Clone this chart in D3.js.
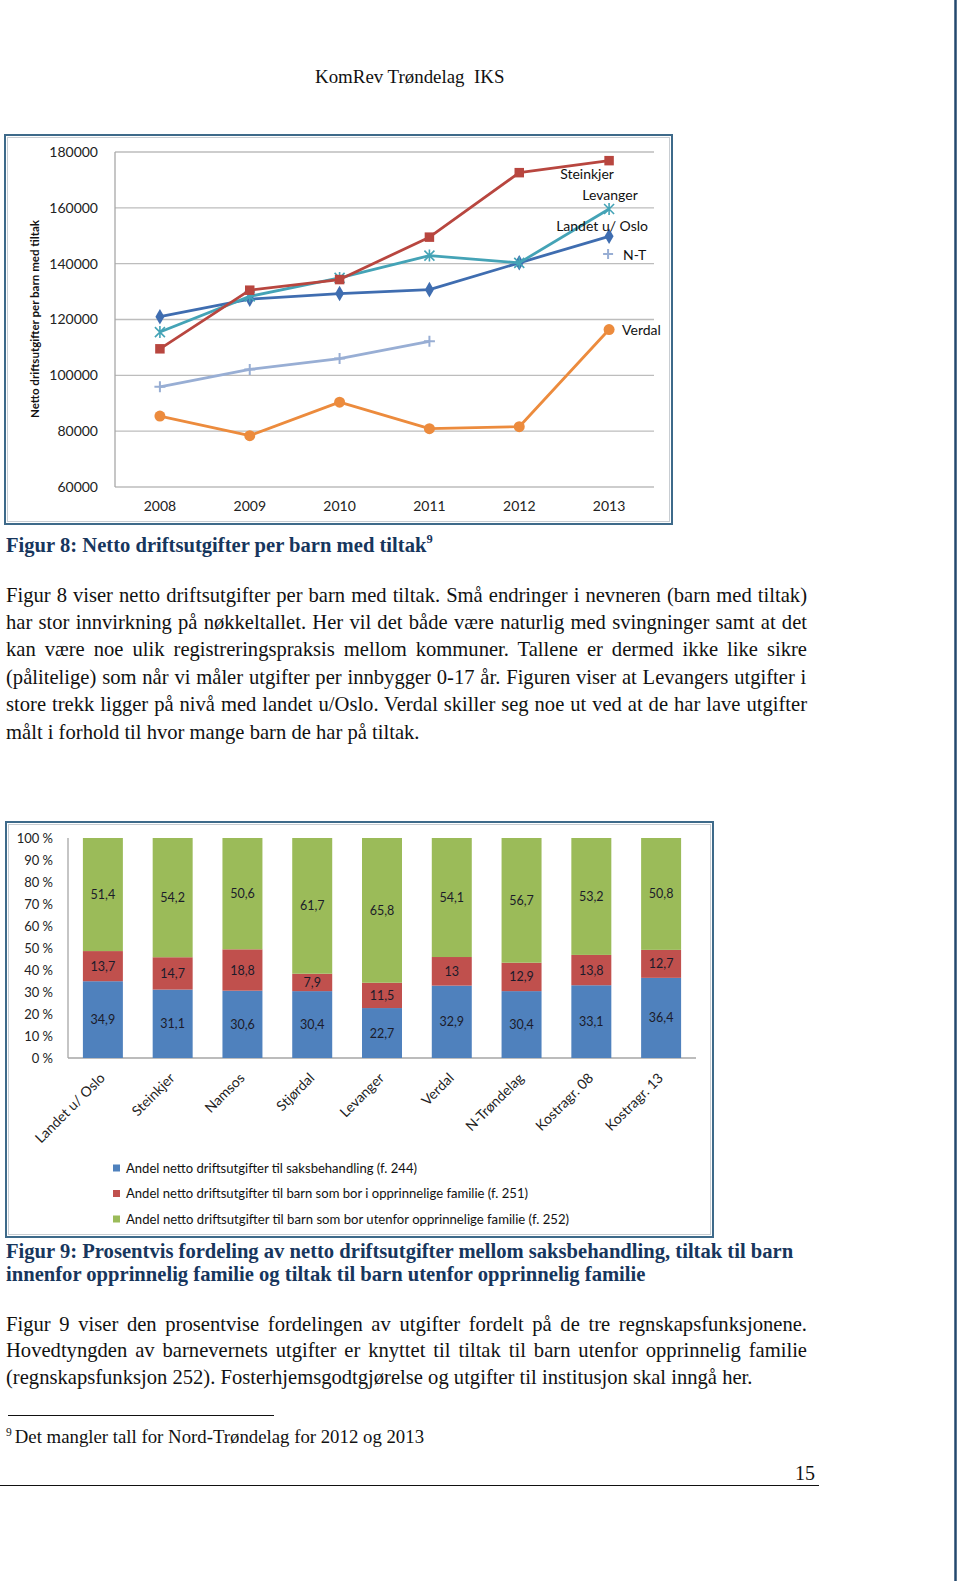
<!DOCTYPE html>
<html><head><meta charset="utf-8">
<script src="https://cdn.jsdelivr.net/npm/d3@7"></script>
<style>body{margin:0;background:#fff} svg{display:block}</style>
</head><body>
<svg id="page" width="960" height="1581"></svg>
<script>
// ---------- Figure 8 data ----------
const years = ["2008","2009","2010","2011","2012","2013"];
const landetUOslo = [121000,127300,129300,130700,140300,149800];
const steinkjer   = [109500,130500,134300,149500,172600,176900];
const levanger    = [115500,128300,134900,142900,140300,159600];
const nordTrondelag = [95900,102100,106000,112200,null,null];
const verdal      = [85400,78400,90400,80900,81600,116400];
const lineTicks = [60000,80000,100000,120000,140000,160000,180000];
const lineSeriesNames = ["Landet u/ Oslo","Steinkjer","Levanger","N-T","Verdal"];

// ---------- Figure 9 data ----------
const categories = ["Landet u/ Oslo","Steinkjer","Namsos","Stjørdal","Levanger","Verdal","N-Trøndelag","Kostragr. 08","Kostragr. 13"];
const saksbehandling = [34.9,31.1,30.6,30.4,22.7,32.9,30.4,33.1,36.4];
const iFamilie       = [13.7,14.7,18.8,7.9,11.5,13,12.9,13.8,12.7];
const utenforFamilie = [51.4,54.2,50.6,61.7,65.8,54.1,56.7,53.2,50.8];
const pctTicks = [0,0.1,0.2,0.3,0.4,0.5,0.6,0.7,0.8,0.9,1];
const legendLabels = [
  "Andel netto driftsutgifter til saksbehandling (f. 244)",
  "Andel netto driftsutgifter til barn som bor i opprinnelige familie (f. 251)",
  "Andel netto driftsutgifter til barn som bor utenfor opprinnelige familie (f. 252)"
];

const svg = d3.select("#page");
const nb = d3.formatLocale({decimal:",", thousands:" ", grouping:[3], currency:["","kr"], percent:" %"});
const serif = "'Liberation Serif','Times New Roman',serif";
const sans = "Lato,'Open Sans',sans-serif";
const navy = "#17365D";
const bodySize = 20.6;

// ---------- page furniture ----------
svg.append("line").attr("x1",955.5).attr("x2",955.5).attr("y1",0).attr("y2",1581)
   .attr("stroke","#24496E").attr("stroke-width",2.5);
svg.append("text").attr("x",315).attr("y",83).attr("font-family",serif).attr("font-size",18.9)
   .attr("fill","#111").attr("xml:space","preserve").style("white-space","pre").text("KomRev Trøndelag  IKS");

function frame(x0,y0,x1,y1){
  svg.append("rect").attr("x",x0).attr("y",y0).attr("width",x1-x0).attr("height",y1-y0)
     .attr("fill","#fff").attr("stroke","#3E6A8A").attr("stroke-width",2);
  svg.append("rect").attr("x",x0+2.5).attr("y",y0+2.5).attr("width",x1-x0-5).attr("height",y1-y0-5)
     .attr("fill","none").attr("stroke","#C8CDD2").attr("stroke-width",1);
}

// ---------- Figure 8: line chart ----------
frame(5,135,672,524);
const gL = svg.append("g");
const xL = d3.scaleBand().domain(years).range([115,654]);
const yL = d3.scaleLinear().domain([60000,180000]).range([487,152]);

gL.append("g").selectAll("line").data(lineTicks).join("line")
  .attr("x1",115).attr("x2",654).attr("y1",d=>yL(d)).attr("y2",d=>yL(d))
  .attr("stroke","#BDBDBD").attr("stroke-width",1.3);
gL.append("line").attr("x1",115).attr("x2",115).attr("y1",yL(180000)).attr("y2",yL(60000))
  .attr("stroke","#A8A8A8").attr("stroke-width",1.3);

const yAxisL = d3.axisLeft(yL).tickValues(lineTicks).tickFormat(d3.format("d")).tickSize(0).tickPadding(17);
gL.append("g").attr("transform","translate(115,0)").call(yAxisL)
  .call(g=>g.select(".domain").remove())
  .selectAll("text").attr("font-family",sans).attr("font-size",14).attr("fill","#222");
const xAxisL = d3.axisBottom(xL).tickSize(0).tickPadding(14);
gL.append("g").attr("transform","translate(0,487)").call(xAxisL)
  .call(g=>g.select(".domain").remove())
  .selectAll("text").attr("font-family",sans).attr("font-size",14).attr("fill","#222");

gL.append("text").attr("transform","translate(39,319) rotate(-90)").attr("text-anchor","middle")
  .attr("font-family",sans).attr("font-weight","bold").attr("font-size",11.5).attr("fill","#111")
  .attr("textLength",198).attr("lengthAdjust","spacingAndGlyphs")
  .text("Netto driftsutgifter per barn med tiltak");

const cx = d=>xL(d)+xL.bandwidth()/2;
const lineGen = d3.line().defined(d=>d[1]!=null).x(d=>cx(d[0])).y(d=>yL(d[1]));
const series = [
  {name:"N-T", vals:nordTrondelag, color:"#98AED4", marker:"plus"},
  {name:"Verdal", vals:verdal, color:"#EC8B3D", marker:"circle"},
  {name:"Landet u/ Oslo", vals:landetUOslo, color:"#3F6DB0", marker:"diamond"},
  {name:"Levanger", vals:levanger, color:"#44A3B6", marker:"star"},
  {name:"Steinkjer", vals:steinkjer, color:"#B8463F", marker:"square"}
];
series.forEach(s=>{
  const pts = years.map((y,i)=>[y,s.vals[i]]);
  gL.append("path").datum(pts).attr("d",lineGen).attr("fill","none")
    .attr("stroke",s.color).attr("stroke-width",2.8).attr("stroke-linejoin","round");
  const mk = gL.append("g").selectAll("path").data(pts.filter(p=>p[1]!=null)).join("path")
    .attr("transform",p=>`translate(${cx(p[0])},${yL(p[1])})`);
  if(s.marker==="diamond") mk.attr("d",d3.symbol(d3.symbolDiamond,70)).attr("fill",s.color);
  if(s.marker==="square") mk.attr("d",d3.symbol(d3.symbolSquare,90)).attr("fill",s.color);
  if(s.marker==="circle") mk.attr("d",d3.symbol(d3.symbolCircle,95)).attr("fill",s.color);
  if(s.marker==="plus") mk.attr("d","M-5.5,0H5.5M0,-5.5V5.5").attr("stroke",s.color).attr("stroke-width",2).attr("fill","none");
  if(s.marker==="star") mk.attr("d","M-5,-5L5,5M-5,5L5,-5M0,-6V6").attr("stroke",s.color).attr("stroke-width",1.6).attr("fill","none");
});
// data labels at 2013
const last = years.length-1, x13 = cx(years[last]);
const lab = (t,x,y,anchor)=>gL.append("text").attr("x",x).attr("y",y).attr("text-anchor",anchor)
   .attr("dominant-baseline","central").attr("font-family",sans).attr("font-size",14).attr("fill","#111").text(t);
lab(lineSeriesNames[1], x13-22, yL(steinkjer[last])+12.5, "middle");
lab(lineSeriesNames[2], x13+1, yL(levanger[last])-14, "middle");
lab(lineSeriesNames[0], x13-7, yL(landetUOslo[last])-11, "middle");
lab(lineSeriesNames[4], x13+13, yL(verdal[last]), "start");
gL.append("path").attr("transform",`translate(${x13-1},254)`).attr("d","M-5,0H5M0,-5V5")
  .attr("stroke","#98AED4").attr("stroke-width",2);
lab(lineSeriesNames[3], x13+14, 254, "start");

// caption 8
const cap8 = svg.append("text").attr("x",6).attr("y",552).attr("font-family",serif).attr("font-weight","bold")
  .attr("font-size",bodySize).attr("fill",navy);
cap8.append("tspan").text("Figur 8: Netto driftsutgifter per barn med tiltak");
cap8.append("tspan").attr("font-size",12.5).attr("dy",-9).text("9");

// body text helper (justified)
function para(lines, x, y0, lh, right, justifyLast, opts={}){
  lines.forEach((t,i)=>{
    const el = svg.append("text").attr("x",x).attr("y",y0+i*lh).attr("font-family",serif)
      .attr("font-size",opts.size||bodySize).attr("fill",opts.fill||"#111")
      .attr("font-weight",opts.weight||"normal").text(t);
    const justify = opts.justify!==false && (i<lines.length-1 || justifyLast);
    if(justify){
      const w = el.node().getComputedTextLength();
      const n = (t.match(/ /g)||[]).length;
      if(n>0) el.attr("word-spacing",((right-x)-w)/n);
    }
  });
}
para([
 "Figur 8 viser netto driftsutgifter per barn med tiltak. Små endringer i nevneren (barn med tiltak)",
 "har stor innvirkning på nøkkeltallet. Her vil det både være naturlig med svingninger samt at det",
 "kan være noe ulik registreringspraksis mellom kommuner. Tallene er dermed ikke like sikre",
 "(pålitelige) som når vi måler utgifter per innbygger 0-17 år.  Figuren viser at Levangers utgifter i",
 "store trekk ligger på nivå med landet u/Oslo. Verdal skiller seg noe ut ved at de har lave utgifter",
 "målt i forhold til hvor mange barn de har på tiltak."
], 6, 601.5, 27.4, 807, false);

// ---------- Figure 9: stacked percent bars ----------
frame(6,822,713,1237);
const gB = svg.append("g");
const xB = d3.scaleBand().domain(categories).range([68,696]).paddingInner(0.427).paddingOuter(0.2135);
const yB = d3.scaleLinear().domain([0,1]).range([1058,838]);
const keys = ["saks","i","utenfor"];
const colors = {saks:"#4F81BD", i:"#C0504D", utenfor:"#9BBB59"};
const rows = categories.map((c,i)=>({cat:c, saks:saksbehandling[i], i:iFamilie[i], utenfor:utenforFamilie[i]}));
const stacked = d3.stack().keys(keys).offset(d3.stackOffsetExpand)(rows);

gB.append("line").attr("x1",68).attr("x2",68).attr("y1",838).attr("y2",1058).attr("stroke","#A6A6A6").attr("stroke-width",1.3);
gB.append("line").attr("x1",68).attr("x2",696).attr("y1",1058).attr("y2",1058).attr("stroke","#A6A6A6").attr("stroke-width",1.3);

const yAxisB = d3.axisLeft(yB).tickValues(pctTicks).tickFormat(nb.format(".0%")).tickSize(0).tickPadding(15);
gB.append("g").attr("transform","translate(68,0)").call(yAxisB)
  .call(g=>g.select(".domain").remove())
  .selectAll("text").attr("font-family",sans).attr("font-size",13).attr("fill","#222");

const fmtV = nb.format(".1~f");
stacked.forEach(layer=>{
  const k = layer.key;
  gB.append("g").selectAll("rect").data(layer).join("rect")
    .attr("x",d=>xB(d.data.cat)).attr("width",xB.bandwidth())
    .attr("y",d=>yB(d[1])).attr("height",d=>yB(d[0])-yB(d[1]))
    .attr("fill",colors[k]);
  gB.append("g").selectAll("text").data(layer).join("text")
    .attr("x",d=>xB(d.data.cat)+xB.bandwidth()/2).attr("y",d=>yB((d[0]+d[1])/2))
    .attr("text-anchor","middle").attr("dominant-baseline","central")
    .attr("font-family",sans).attr("font-size",12.5).attr("fill","#1b1b2a")
    .text(d=>fmtV(d.data[k]));
});

gB.append("g").selectAll("text").data(categories).join("text")
  .attr("transform",d=>`translate(${xB(d)+xB.bandwidth()/2+3},1079) rotate(-45)`)
  .attr("text-anchor","end").attr("font-family",sans).attr("font-size",14).attr("fill","#222")
  .text(d=>d);

// legend
const legW = [291,402,443];
const legKeys = ["saks","i","utenfor"];
const legY = [1168,1193.5,1219];
legendLabels.forEach((t,i)=>{
  gB.append("rect").attr("x",113).attr("y",legY[i]-3.5).attr("width",7).attr("height",7).attr("fill",colors[legKeys[i]]);
  gB.append("text").attr("x",126).attr("y",legY[i]).attr("dominant-baseline","central")
    .attr("font-family",sans).attr("font-size",12.5).attr("fill","#111")
    .attr("textLength",legW[i]).attr("lengthAdjust","spacingAndGlyphs").text(t);
});

// caption 9
para([
 "Figur 9: Prosentvis fordeling av netto driftsutgifter mellom saksbehandling, tiltak til barn",
 "innenfor opprinnelig familie og tiltak til barn utenfor opprinnelig familie"
], 6, 1257.5, 23.8, 807, false, {weight:"bold", fill:navy, justify:false});

para([
 "Figur 9 viser den prosentvise fordelingen av utgifter fordelt på de tre regnskapsfunksjonene.",
 "Hovedtyngden av barnevernets utgifter er knyttet til tiltak til barn utenfor opprinnelig familie",
 "(regnskapsfunksjon 252). Fosterhjemsgodtgjørelse og utgifter til institusjon skal inngå her."
], 6, 1330.5, 26.6, 807, false);

// footnote
svg.append("line").attr("x1",8).attr("x2",274).attr("y1",1415.5).attr("y2",1415.5).attr("stroke","#111").attr("stroke-width",1.2);
const fn = svg.append("text").attr("x",6).attr("y",1443).attr("font-family",serif).attr("font-size",18.8).attr("fill","#111");
fn.append("tspan").attr("font-size",11.5).attr("dy",-7).text("9");
fn.append("tspan").attr("dy",7).attr("dx",3).text("Det mangler tall for Nord-Trøndelag for 2012 og 2013");

svg.append("text").attr("x",815).attr("y",1480).attr("text-anchor","end").attr("font-family",serif)
  .attr("font-size",20).attr("fill","#111").text("15");
svg.append("line").attr("x1",0).attr("x2",819).attr("y1",1485.5).attr("y2",1485.5).attr("stroke","#111").attr("stroke-width",1.2);
</script>
</body></html>
